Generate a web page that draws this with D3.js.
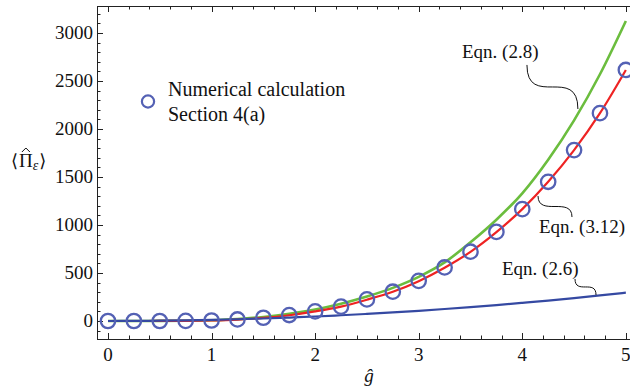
<!DOCTYPE html>
<html>
<head>
<meta charset="utf-8">
<script src="https://cdn.jsdelivr.net/npm/d3@7"></script>
<style>
  body { margin: 0; background: #fff; }
</style>
</head>
<body>
<div id="vis"></div>
<script>
// g-hat grid shared by all series
const gValues = [0, 0.25, 0.5, 0.75, 1, 1.25, 1.5, 1.75, 2, 2.25, 2.5, 2.75, 3, 3.25, 3.5, 3.75, 4, 4.25, 4.5, 4.75, 5];

// numerical calculation, Section 4(a) (circles)
const numerical = [0, 0, 0, 1, 5, 16, 34, 62, 100, 150, 225, 305, 418, 558, 722, 928, 1165, 1450, 1780, 2165, 2615];
// Eqn. (2.8) green
const eqn28 = [0, 0, 1, 3, 8, 20, 42, 75, 120, 180, 255, 345, 460, 610, 820, 1055, 1330, 1680, 2090, 2570, 3125];
// Eqn. (3.12) red
const eqn312 = [0, 0, 0.5, 2, 6, 15, 32, 60, 100, 150, 222, 305, 415, 555, 720, 925, 1165, 1450, 1780, 2165, 2615];
// Eqn. (2.6) blue
const eqn26 = [0, 1, 3, 7, 12, 18, 26, 36, 47, 60, 74, 89, 106, 125, 145, 166, 189, 213, 239, 266, 295];

const xMajor = [0, 1, 2, 3, 4, 5];
const yMajor = [0, 500, 1000, 1500, 2000, 2500, 3000];

const width = 630, height = 392;
const plot = {left: 97, right: 630, top: 6, bottom: 339};
const serif = '"Liberation Serif", "DejaVu Serif", serif';

const svg = d3.select('#vis')
    .append('svg')
    .attr('width', width)
    .attr('height', height)
    .attr('font-family', serif)
    .attr('font-size', 19)
    .attr('fill', '#111');

const xScale = d3.scaleLinear()
    .domain([-0.106, 5.04])
    .range([plot.left, plot.right]);

const yScale = d3.scaleLinear()
    .domain([-187.5, 3281])
    .range([plot.bottom, plot.top]);

// frame
const frame = svg.append('g').attr('stroke', '#222').attr('stroke-width', 1).attr('fill', 'none');
frame.append('line').attr('x1', plot.left).attr('x2', plot.right).attr('y1', plot.top + 0.5).attr('y2', plot.top + 0.5);
frame.append('line').attr('x1', plot.left).attr('x2', plot.right).attr('y1', plot.bottom + 0.5).attr('y2', plot.bottom + 0.5);
frame.append('line').attr('x1', plot.left + 0.5).attr('x2', plot.left + 0.5).attr('y1', plot.top).attr('y2', plot.bottom + 1);

// minor + major ticks, pointing inwards (Mathematica style)
const xMinor = d3.range(0, 5.01, 0.2).filter(v => Math.abs(v - Math.round(v)) > 1e-6);
const yMinor = d3.range(-100, 3250, 100).filter(v => v % 500 !== 0);

const ticks = svg.append('g').attr('stroke', '#222').attr('stroke-width', 1);
function xTicks(vals, len) {
    vals.forEach(v => {
        const px = Math.round(xScale(v)) + 0.5;
        ticks.append('line').attr('x1', px).attr('x2', px).attr('y1', plot.bottom).attr('y2', plot.bottom - len);
        ticks.append('line').attr('x1', px).attr('x2', px).attr('y1', plot.top).attr('y2', plot.top + len);
    });
}
xTicks(xMajor, 6);
xTicks(xMinor, 3.5);
function yTicks(vals, len) {
    vals.forEach(v => {
        const py = Math.round(yScale(v)) + 0.5;
        ticks.append('line').attr('x1', plot.left).attr('x2', plot.left + len).attr('y1', py).attr('y2', py);
    });
}
yTicks(yMajor, 6);
yTicks(yMinor, 3.5);

// tick labels
svg.append('g').selectAll('text')
    .data(xMajor)
    .join('text')
    .attr('x', d => xScale(d))
    .attr('y', 361)
    .attr('text-anchor', 'middle')
    .text(d => d);

svg.append('g').selectAll('text')
    .data(yMajor)
    .join('text')
    .attr('x', plot.left - 4)
    .attr('y', d => yScale(d) + 6.5)
    .attr('text-anchor', 'end')
    .text(d => d);

// axis labels
svg.append('text')
    .attr('x', 369)
    .attr('y', 382)
    .attr('text-anchor', 'middle')
    .style('font-style', 'italic')
    .text('ĝ');

// <Pi-hat_epsilon>, built piece by piece so the hat sits on the Pi
let lx = 11;
const ly = 167;
function piece(str, opts = {}) {
    const t = svg.append('text').attr('x', lx).attr('y', ly + (opts.dy || 0)).text(str);
    if (opts.size) t.attr('font-size', opts.size);
    if (opts.italic) t.style('font-style', 'italic');
    const w = t.node().getComputedTextLength();
    lx += w + (opts.gap || 0);
    return {t, w};
}
piece('⟨', {size: 18, gap: 1});
const pi = piece('Π');
const hatX = lx - pi.w / 2;
svg.append('path')
    .attr('d', `M${hatX - 4},${ly - 15} L${hatX},${ly - 19} L${hatX + 4},${ly - 15}`)
    .attr('fill', 'none')
    .attr('stroke', '#111')
    .attr('stroke-width', 1);
piece('ε', {size: 14, italic: true, dy: 3, gap: 1});
piece('⟩', {size: 18});

// curves
svg.append('clipPath').attr('id', 'plotclip')
    .append('rect').attr('x', plot.left + 1).attr('y', plot.top + 1)
    .attr('width', plot.right - plot.left).attr('height', plot.bottom - plot.top - 1);

const line = d3.line()
    .x((d, i) => xScale(gValues[i]))
    .y(d => yScale(d))
    .curve(d3.curveMonotoneX);

const series = [
    {vals: eqn28, color: '#6bbd3e', w: 2.6},
    {vals: eqn312, color: '#ee2323', w: 2.2},
    {vals: eqn26, color: '#3549a2', w: 2.2}
];

svg.append('g').attr('clip-path', 'url(#plotclip)')
    .selectAll('path')
    .data(series)
    .join('path')
    .attr('d', d => line(d.vals))
    .attr('fill', 'none')
    .attr('stroke', d => d.color)
    .attr('stroke-width', d => d.w);

// numerical points
svg.append('g')
    .selectAll('circle')
    .data(numerical)
    .join('circle')
    .attr('cx', (d, i) => xScale(gValues[i]))
    .attr('cy', d => yScale(d))
    .attr('r', 7.2)
    .attr('fill', 'none')
    .attr('stroke', '#5461b4')
    .attr('stroke-width', 2.3);

// legend
svg.append('circle')
    .attr('cx', 148).attr('cy', 101.5).attr('r', 6.1)
    .attr('fill', 'none').attr('stroke', '#5461b4').attr('stroke-width', 2.2);
svg.append('text').attr('x', 168).attr('y', 96).attr('font-size', 20).text('Numerical calculation');
svg.append('text').attr('x', 168).attr('y', 121).attr('font-size', 20).text('Section 4(a)');

// callouts: label spot and leader ends, in data units
const callouts = [
    {label: 'Eqn. (2.8)', at: [3.418, 2740], from: [4.045, 2667], to: [4.537, 2208]},
    {label: 'Eqn. (3.12)', at: [4.161, 917], from: [4.152, 1302], to: [4.480, 1083]},
    {label: 'Eqn. (2.6)', at: [3.804, 480], from: [4.509, 438], to: [4.712, 271]}
];

callouts.forEach(c => {
    const x1 = xScale(c.from[0]), y1 = yScale(c.from[1]);
    const x2 = xScale(c.to[0]), y2 = yScale(c.to[1]);
    svg.append('path')
        .attr('d', `M${x1},${y1} C${x1},${y2} ${x2},${y1} ${x2},${y2}`)
        .attr('fill', 'none')
        .attr('stroke', '#111')
        .attr('stroke-width', 1);
    svg.append('text')
        .attr('x', xScale(c.at[0]))
        .attr('y', yScale(c.at[1]))
        .text(c.label);
});
</script>
</body>
</html>
